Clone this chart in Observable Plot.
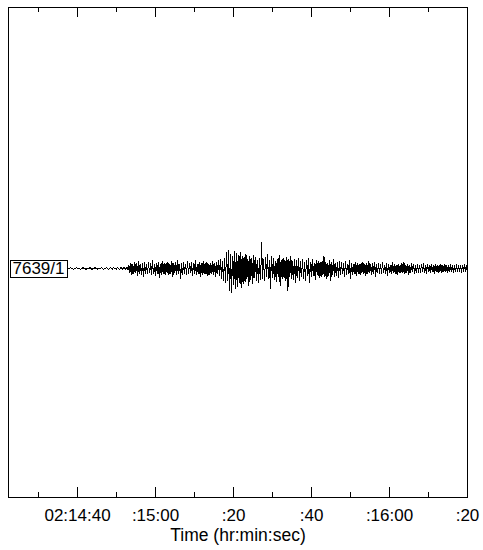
<!DOCTYPE html>
<html>
<head>
<meta charset="utf-8">
<script src="https://cdn.jsdelivr.net/npm/d3@7"></script>
<script src="https://cdn.jsdelivr.net/npm/@observablehq/plot@0.6"></script>
<style>
  html, body { margin: 0; padding: 0; background: #fff; }
  #chart svg { display: block; }
</style>
</head>
<body>
<div id="chart"></div>
<script>
// Time axis: seconds after 02:14:00
const majorTickSeconds = [40, 60, 80, 100, 120, 140];
const majorTickLabels = ["02:14:40", ":15:00", ":20", ":40", ":16:00", ":20"];
const minorTickSeconds = [30, 50, 70, 90, 110, 130];
const axisTitle = "Time (hr:min:sec)";
const stationLabel = "7639/1";

// Trace: first sample time (s after 02:14:00), sample step (s), amplitudes
const traceStart = 37.7;
const traceStep = 0.25;
const amplitude = [
  0,0,1,0,0,-1,0,0,1,0,0,0,-1,0,0,1,0,0,-1,0,
  0,0,1,0,-1,0,0,1,0,0,-1,0,0,0,1,0,-1,0,0,1,
  0,-1,0,1,0,-1,1,0,0,-1,1,0,-1,0,1,-1,0,1,-1,0,
  1,-1,3,-4,5,-6,4,-5,6,-4,5,-7,7,-5,4,-6,5,-8,6,-5,
  4,-5,6,-4,5,-6,8,-5,4,-7,5,-5,6,-9,4,-6,7,-5,5,-6,
  5,-4,6,-6,4,-5,7,-8,5,-4,6,-6,8,-5,4,-10,5,-6,6,-5,
  4,-6,7,-5,5,-4,6,-7,5,-5,8,-6,4,-5,6,-8,5,-6,7,-5,
  5,-5,6,-7,4,-6,5,-5,7,-6,5,-8,6,-5,8,-7,9,-10,7,-12,
  10,-14,16,-12,18,-22,14,-24,12,-16,17,-20,15,-18,13,-14,16,-19,12,-15,
  11,-13,14,-10,9,-17,12,-11,10,-15,13,-9,11,-12,8,-14,10,-11,26,-10,
  9,-12,11,-8,14,-10,8,-20,12,-9,10,-11,7,-13,9,-8,13,-17,8,-10,
  10,-9,8,-12,11,-22,9,-8,12,-10,7,-11,9,-14,8,-9,10,-12,7,-8,
  9,-10,6,-12,8,-7,10,-14,6,-8,9,-7,5,-11,8,-6,7,-9,6,-8,
  7,-6,12,-8,6,-10,5,-7,8,-12,6,-6,9,-8,5,-7,6,-9,7,-6,
  6,-5,5,-8,7,-6,4,-5,8,-10,5,-6,4,-5,6,-7,5,-5,4,-6,
  5,-4,6,-5,4,-7,5,-5,7,-4,4,-6,5,-5,6,-8,4,-4,5,-5,
  4,-5,6,-4,3,-5,5,-7,4,-4,3,-5,6,-4,4,-5,3,-6,4,-4,
  3,-4,5,-4,6,-5,3,-4,4,-6,3,-4,5,-3,4,-5,3,-4,4,-4,
  3,-4,4,-3,5,-4,3,-5,4,-3,3,-4,4,-3,3,-5,4,-3,3,-4,
  3,-3,4,-4,3,-3,4,-3,3,-4,3,-3,4,-3,3,-4,3,-3,4,-3,
  3,-3,3,-4,3,-3,4,-3,3,-3
];

const trace = amplitude.map((a, i) => ({t: traceStart + i * traceStep, a}));
const majors = majorTickSeconds.map((t, i) => ({t, label: majorTickLabels[i]}));

const font = "'Liberation Sans', Arial, Helvetica, sans-serif";

const chart = Plot.plot({
  width: 483,
  height: 550,
  marginLeft: 8,
  marginRight: 16,
  marginTop: 7,
  marginBottom: 53,
  style: {fontFamily: font, background: "#fff", color: "#000"},
  x: {domain: [22.3, 140], axis: null},
  y: {domain: [-229, 261], axis: null},
  marks: [
    Plot.frame({stroke: "#000", strokeWidth: 1, shapeRendering: "crispEdges"}),
    // major ticks (top & bottom, pointing inward)
    Plot.ruleX(majors, {x: "t", insetBottom: 480, stroke: "#000", strokeWidth: 1, shapeRendering: "crispEdges"}),
    Plot.ruleX(majors, {x: "t", insetTop: 480, stroke: "#000", strokeWidth: 1, shapeRendering: "crispEdges"}),
    // minor ticks
    Plot.ruleX(minorTickSeconds, {x: d => d, insetBottom: 485, stroke: "#000", strokeWidth: 1, shapeRendering: "crispEdges"}),
    Plot.ruleX(minorTickSeconds, {x: d => d, insetTop: 485, stroke: "#000", strokeWidth: 1, shapeRendering: "crispEdges"}),
    // seismogram trace
    Plot.line(trace, {x: "t", y: "a", stroke: "#000", strokeWidth: 1, curve: "linear", shapeRendering: "crispEdges"}),
    // tick labels
    Plot.text(majors, {x: "t", text: "label", frameAnchor: "bottom", lineAnchor: "bottom", dy: 23, fontSize: 17, fill: "#000"}),
    // axis title
    Plot.text([axisTitle], {text: d => d, frameAnchor: "bottom", lineAnchor: "bottom", dy: 43, fontSize: 17.5, fill: "#000"}),
    // station label
    Plot.text([stationLabel], {x: 22.3, y: 0, text: d => d, textAnchor: "start", lineAnchor: "middle", dx: 4, fontSize: 17, fill: "#000", className: "station-label"})
  ]
});

document.getElementById("chart").appendChild(chart);

// white box with black border behind the station label
const labelGroup = chart.querySelector(".station-label");
if (labelGroup) {
  const txt = labelGroup.querySelector("text");
  const bb = txt.getBBox();
  const ctm = txt.getAttribute("transform");
  const rect = document.createElementNS("http://www.w3.org/2000/svg", "rect");
  rect.setAttribute("x", Math.round(bb.x - 3) + 0.5);
  rect.setAttribute("y", Math.round(bb.y + 1) + 0.5);
  rect.setAttribute("width", Math.round(bb.width + 5));
  rect.setAttribute("height", Math.round(bb.height - 2));
  rect.setAttribute("fill", "#fff");
  rect.setAttribute("stroke", "#000");
  rect.setAttribute("shape-rendering", "crispEdges");
  if (ctm) rect.setAttribute("transform", ctm);
  txt.parentNode.insertBefore(rect, txt);
}
</script>
</body>
</html>
